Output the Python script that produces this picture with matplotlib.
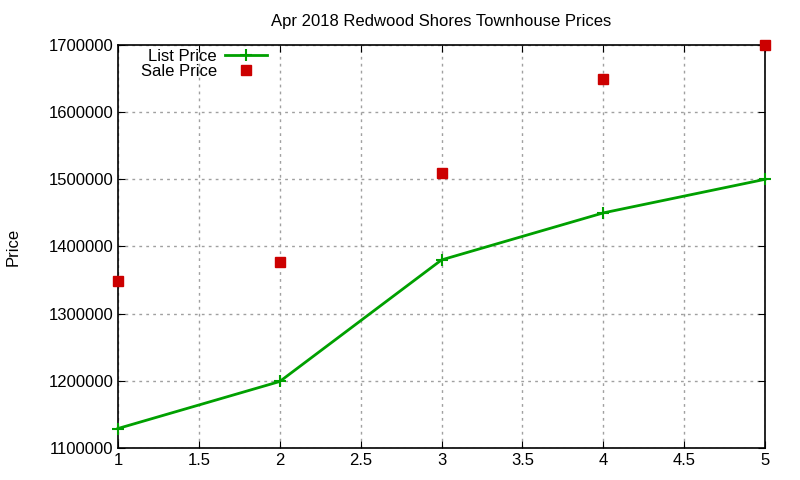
import numpy as np
import matplotlib.pyplot as plt

plt.rcParams['font.family'] = ['Liberation Sans', 'DejaVu Sans']

# values
months = [1, 2, 3, 4, 5]
list_price = [1129000, 1199000, 1380000, 1450000, 1500000]
sale_price = [1349000, 1377000, 1509000, 1649000, 1700000]

fig = plt.figure(figsize=(8, 4.8), dpi=100)
ax = fig.add_axes([0.1475, 0.0667, 0.8088, 0.8396])

ax.plot(months, list_price, color='#00a000', linewidth=2, marker='+',
        markersize=9, markeredgewidth=1.5, label='List Price', clip_on=False, zorder=3)
ax.plot(months, sale_price, linestyle='none', color='#cc0000', marker='s',
        markersize=6.5, label='Sale Price', clip_on=False, zorder=4)

ax.set_xlim(1, 5)
ax.set_ylim(1100000, 1700000)
ax.set_xticks(np.arange(1, 5.01, 0.5))
ax.set_xticklabels(['1', '1.5', '2', '2.5', '3', '3.5', '4', '4.5', '5'])
ax.set_yticks(np.arange(1100000, 1700001, 100000))
ax.set_yticklabels([str(v) for v in range(1100000, 1700001, 100000)])
ax.tick_params(direction='in', top=True, right=True, labelsize=12, length=5)
ax.grid(True, linestyle=(0, (2, 3)), color='#a0a0a0', linewidth=1)
for s in ax.spines.values():
    s.set_linewidth(1.2)

ax.set_ylabel('Price', fontsize=12, labelpad=20)
ax.set_title('Apr 2018 Redwood Shores Townhouse Prices', fontsize=12, pad=14)

leg = ax.legend(loc='upper right', bbox_to_anchor=(0.23, 0.99), frameon=False,
                markerfirst=False, fontsize=12, handlelength=2.5,
                handletextpad=0.5, labelspacing=0.0, borderaxespad=0.0,
                borderpad=0.0)
for t in leg.get_texts():
    t.set_ha('right')

fig.savefig('out.png', dpi=100)
